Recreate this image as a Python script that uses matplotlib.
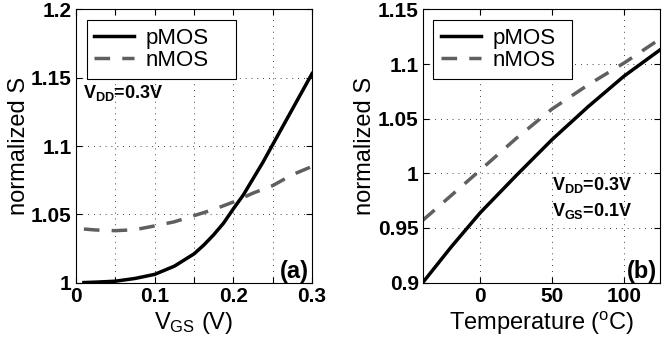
import numpy as np
import matplotlib
matplotlib.use("Agg")
import matplotlib.pyplot as plt
from matplotlib.ticker import FixedLocator, FixedFormatter

plt.rcParams['font.family'] = ['Liberation Sans', 'DejaVu Sans']
plt.rcParams['mathtext.fontset'] = 'custom'
plt.rcParams['mathtext.rm'] = 'Liberation Sans'
plt.rcParams['mathtext.it'] = 'Liberation Sans:italic'
plt.rcParams['mathtext.bf'] = 'Liberation Sans:bold'

# (a) normalized S vs V_GS
vgs_p = [0.01, 0.025, 0.05, 0.075, 0.1, 0.125, 0.15, 0.1625, 0.175, 0.1875, 0.2,
         0.2125, 0.225, 0.2375, 0.25, 0.2625, 0.275, 0.2875, 0.3]
s_pmos_a = [1.000, 1.0003, 1.001, 1.003, 1.006, 1.012, 1.021, 1.0275, 1.035, 1.0435, 1.054,
            1.064, 1.076, 1.088, 1.101, 1.114, 1.127, 1.140, 1.153]
vgs_n = [0.01, 0.025, 0.05, 0.075, 0.1, 0.125, 0.15, 0.175, 0.2, 0.225, 0.25, 0.275, 0.3]
s_nmos_a = [1.0392, 1.0385, 1.038, 1.0387, 1.0415, 1.0445, 1.049, 1.0535, 1.059, 1.0655,
            1.071, 1.079, 1.085]

# (b) normalized S vs temperature
temp = [-40, -20, 0, 25, 50, 75, 100, 125]
s_pmos_b = [0.900, 0.933, 0.964, 0.998, 1.031, 1.061, 1.089, 1.113]
s_nmos_b = [0.957, 0.980, 1.003, 1.032, 1.059, 1.081, 1.101, 1.123]

xt_a = [0, 0.05, 0.1, 0.15, 0.2, 0.25, 0.3]
xtl_a = ['0', '', '0.1', '', '0.2', '', '0.3']
yt_a = [1, 1.05, 1.1, 1.15, 1.2]
ytl_a = ['1', '1.05', '1.1', '1.15', '1.2']
xt_b = [0, 50, 100]
xtl_b = ['0', '50', '100']
yt_b = [0.9, 0.95, 1, 1.05, 1.1, 1.15]
ytl_b = ['0.9', '0.95', '1', '1.05', '1.1', '1.15']

GRAY = '#5f5f5f'


def style(ax, xt, xtl, yt, ytl, legw):
    ax.xaxis.set_major_locator(FixedLocator(xt))
    ax.xaxis.set_major_formatter(FixedFormatter(xtl))
    ax.yaxis.set_major_locator(FixedLocator(yt))
    ax.yaxis.set_major_formatter(FixedFormatter(ytl))
    ax.tick_params(direction='in', length=4, width=0.8, top=True, right=True,
                   labelsize=15, pad=3)
    for lab in ax.get_xticklabels() + ax.get_yticklabels():
        lab.set_fontweight('bold')
    ax.grid(True, color='black', linewidth=0.6, linestyle=(0, (1, 6)))
    for sp in ax.spines.values():
        sp.set_linewidth(0.8)
    leg = ax.legend(loc='upper left', bbox_to_anchor=(0.045, 0.762, legw, 0.2),
                    mode='expand', borderaxespad=0,
                    fontsize=16, fancybox=False, framealpha=1, edgecolor='black',
                    handlelength=1.8, handletextpad=0.5, labelspacing=0.05, borderpad=0.35)
    leg.get_frame().set_linewidth(0.8)


fig = plt.figure(figsize=(6.71, 3.51), dpi=100)
ax1 = fig.add_axes([0.1133, 0.195, 0.3517, 0.778])
ax2 = fig.add_axes([0.6301, 0.195, 0.3535, 0.778])

ax1.plot(vgs_p, s_pmos_a, color='black', lw=2.5, label='pMOS')
ax1.plot(vgs_n, s_nmos_a, color=GRAY, lw=2.5, dashes=(4.5, 3.5), label='nMOS')
ax1.set_xlim(0, 0.3)
ax1.set_ylim(1, 1.2)
style(ax1, xt_a, xtl_a, yt_a, ytl_a, 0.634)
ax1.set_xlabel(r'$\mathrm{V_{GS}}$ (V)', fontsize=17, labelpad=3)
ax1.set_ylabel('normalized S', fontsize=17, labelpad=1)
ax1.text(0.03, 0.675, r'$\mathbf{V_{DD}}$=0.3V', transform=ax1.transAxes,
         fontsize=13, fontweight='bold', va='baseline', ha='left')
ax1.text(0.985, 0.015, '(a)', transform=ax1.transAxes, fontsize=17,
         fontweight='bold', va='baseline', ha='right')

ax2.plot(temp, s_pmos_b, color='black', lw=2.5, label='pMOS')
ax2.plot(temp, s_nmos_b, color=GRAY, lw=2.5, dashes=(4.5, 3.5), label='nMOS')
ax2.set_xlim(-40, 125)
ax2.set_ylim(0.9, 1.15)
style(ax2, xt_b, xtl_b, yt_b, ytl_b, 0.583)
ax2.set_xlabel(r'Temperature ($^{\mathrm{o}}$C)', fontsize=17, labelpad=3)
ax2.set_ylabel('normalized S', fontsize=17, labelpad=1)
ax2.text(0.543, 0.339, r'$\mathbf{V_{DD}}$=0.3V', transform=ax2.transAxes,
         fontsize=13, fontweight='bold', va='baseline', ha='left')
ax2.text(0.543, 0.244, r'$\mathbf{V_{GS}}$=0.1V', transform=ax2.transAxes,
         fontsize=13, fontweight='bold', va='baseline', ha='left')
ax2.text(0.987, 0.015, '(b)', transform=ax2.transAxes, fontsize=17,
         fontweight='bold', va='baseline', ha='right')

fig.savefig('out.png', dpi=100)
